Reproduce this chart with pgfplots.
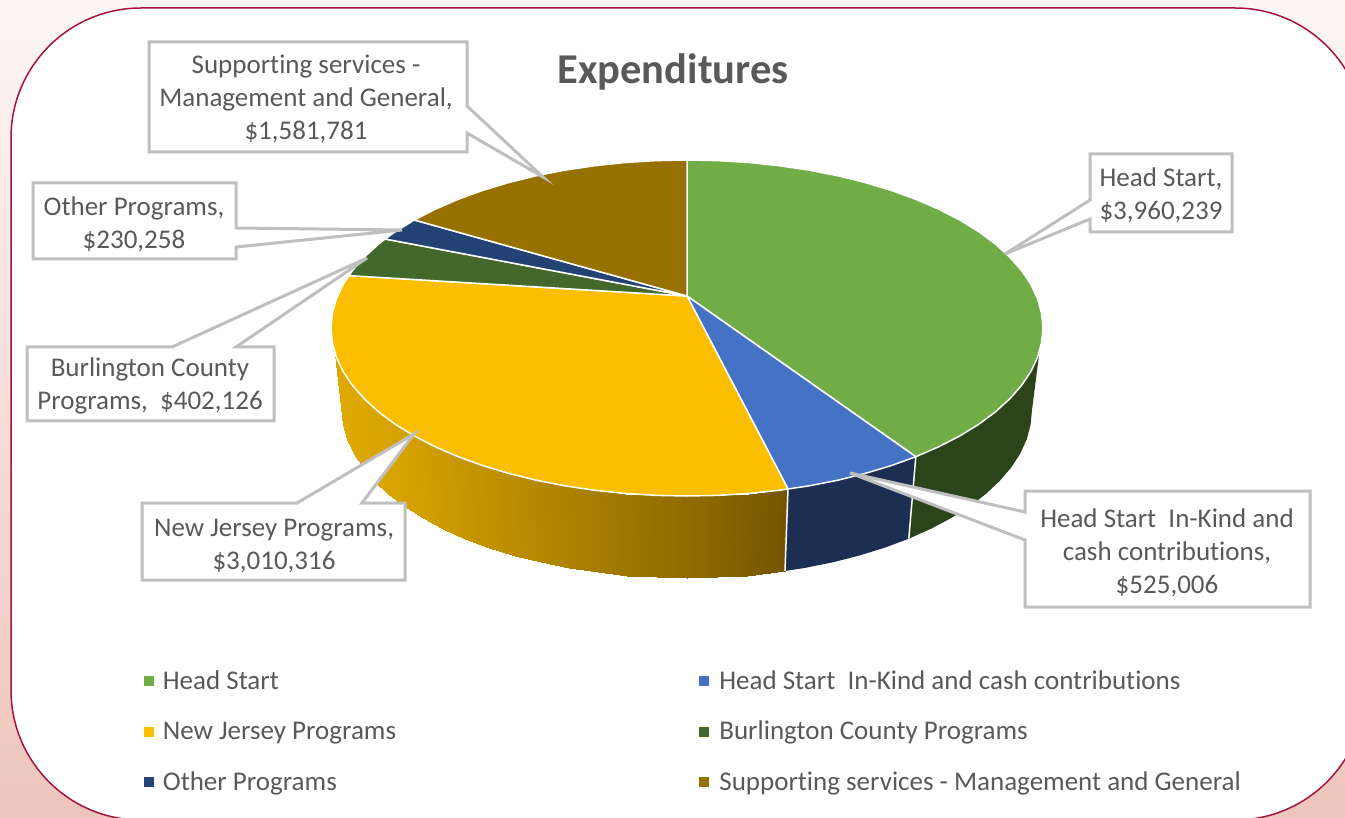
\documentclass[border=0pt]{standalone}
\usepackage{pgfplots}
\pgfplotsset{compat=1.18}
\usepackage{fontspec}
\setmainfont{Carlito}[Ligatures=NoCommon]
\definecolor{txt}{HTML}{595959}
\definecolor{frame}{HTML}{A5123F}
\definecolor{callout}{HTML}{BFBFBF}
\definecolor{cHS}{HTML}{70AD47}
\definecolor{cKind}{HTML}{4472C4}
\definecolor{cNJ}{HTML}{FCBE00}
\definecolor{cBC}{HTML}{43682B}
\definecolor{cOther}{HTML}{234377}
\definecolor{cSupp}{HTML}{967100}
\definecolor{sHS}{HTML}{2B4419}
\definecolor{sKind}{HTML}{1C2E52}
\definecolor{bgtop}{HTML}{FDF6F4}
\definecolor{bgbot}{HTML}{EEC5BC}

\pgfplotstableread{
x y c
334.5 351.4 340
335.4 354.3 343
336.4 357.2 347
343.1 371.5 354
352.5 385.5 363
364.4 399.0 374
378.7 412.0 388
395.4 424.4 404
414.3 436.0 423
435.3 446.8 443
458.2 456.7 465
482.7 465.6 489
509.0 473.5 515
536.5 480.3 541
565.2 485.9 569
594.9 490.3 598
625.2 493.5 627
656.0 495.4 657
687.0 496.0 687
718.0 495.4 717
748.8 493.5 747
788.0 489.0 785
342.0 410.0 340
343.4 424.6 343
347.2 439.2 347
353.7 453.5 354
362.8 467.5 363
374.4 481.0 374
388.2 494.0 388
404.4 506.4 404
422.7 518.0 423
443.1 528.8 443
465.2 538.7 465
489.0 547.6 489
514.5 555.5 515
541.1 562.3 541
569.0 567.9 569
597.6 572.3 598
627.1 575.5 627
657.0 577.4 657
687.0 578.0 687
717.0 577.4 717
746.9 575.5 747
785.0 571.0 785
}\sideNJ

\begin{document}
\begin{tikzpicture}
\useasboundingbox (0,0) rectangle (1345pt,818pt);
\begin{axis}[
  at={(0,0)}, anchor=south west,
  scale only axis, width=1345pt, height=818pt,
  xmin=0, xmax=1345, ymin=0, ymax=818, y dir=reverse,
  hide axis,
  colormap={sideyellow}{
    rgb255(0cm)=(223,170,0) rgb255(8cm)=(212,160,0) rgb255(19cm)=(183,138,0)
    rgb255(28cm)=(160,120,0) rgb255(36cm)=(140,105,0) rgb255(45cm)=(115,84,0)},
  point meta min=340, point meta max=790,
  legend style={
    at={(axis cs:144,668.5)}, anchor=north west, draw=none, fill=none,
    inner sep=0pt, outer sep=0pt, text=txt,
    font=\fontsize{27}{30}\selectfont,
    cells={anchor=west},
    legend cell align=left,
    /tikz/column 1/.style={column sep=7.5pt},
    /tikz/column 2/.style={column sep=301pt},
    /tikz/column 3/.style={column sep=9pt},
    /tikz/row sep=26.5pt,
  },
  legend columns=2,
  legend image code/.code={\fill[#1] (0pt,-4.5pt) rectangle (9pt,4.5pt);},
  every axis plot/.append style={forget plot},
]
% page background and rounded panel
\shade[top color=bgtop, bottom color=bgbot]
  (axis cs:0,0) rectangle (axis cs:1345,818);
\draw[frame, line width=1.5pt, fill=white, rounded corners=130pt]
  (axis cs:11,8) rectangle (axis cs:1365,820);

% side walls
\addplot[surf, shader=interp, mesh/rows=2, point meta=explicit]
  table[x=x, y=y, meta=c] {\sideNJ};
\addplot[fill=sHS, draw=none] coordinates {
  (1039.5,351.4)(1037.6,357.2)(1030.9,371.5)(1021.5,385.5)(1009.6,399)(995.3,412)
  (978.6,424.4)(959.7,436)(938.7,446.8)(915.8,456.7)
  (908.8,538.7)(930.9,528.8)(951.3,518)(969.6,506.4)(985.8,494)(999.6,481)
  (1011.2,467.5)(1020.3,453.5)(1026.8,439.2)(1030.6,424.6)(1032,410)} -- cycle;
\addplot[fill=sKind, draw=none] coordinates {
  (915.8,456.7)(891.3,465.6)(865,473.5)(837.5,480.3)(808.8,485.9)(788,489)
  (785,571)(805,567.9)(832.9,562.3)(859.5,555.5)(885,547.6)(908.8,538.7)} -- cycle;
\addplot[white, line width=1.5pt] coordinates {(915.8,456.7)(908.8,538.7)};
\addplot[white, line width=1.5pt] coordinates {(788,489)(785,571)};

% top face, one polygon per slice
\addplot[fill=cHS, draw=white, line width=1.5pt, line join=round] coordinates {
  (687,296)(687,160)(718,160.6)(748.8,162.5)(779.1,165.7)(808.8,170.1)(837.5,175.7)
  (865,182.5)(891.3,190.4)(915.8,199.3)(938.7,209.2)(959.7,220)(978.6,231.6)
  (995.3,244)(1009.6,257)(1021.5,270.5)(1030.9,284.5)(1037.6,298.8)(1041.6,313.4)
  (1043,328)(1041.6,342.6)(1037.6,357.2)(1030.9,371.5)(1021.5,385.5)(1009.6,399)
  (995.3,412)(978.6,424.4)(959.7,436)(938.7,446.8)(915.8,456.7)} -- cycle;
\addplot[fill=cKind, draw=white, line width=1.5pt, line join=round] coordinates {
  (687,296)(915.8,456.7)(891.3,465.6)(865,473.5)(837.5,480.3)(808.8,485.9)(788,489)} -- cycle;
\addplot[fill=cNJ, draw=white, line width=1.5pt, line join=round] coordinates {
  (687,296)(788,489)(779.1,490.3)(748.8,493.5)(718,495.4)(687,496)(656,495.4)
  (625.2,493.5)(594.9,490.3)(565.2,485.9)(536.5,480.3)(509,473.5)(482.7,465.6)
  (458.2,456.7)(435.3,446.8)(414.3,436)(395.4,424.4)(378.7,412)(364.4,399)
  (352.5,385.5)(343.1,371.5)(336.4,357.2)(332.4,342.6)(331,328)(332.4,313.4)
  (336.4,298.8)(343.1,284.5)(349,275.6)} -- cycle;
\addplot[fill=cBC, draw=white, line width=1.5pt, line join=round] coordinates {
  (687,296)(349,275.6)(352.5,270.5)(364.4,257)(378.7,244)(385,239)} -- cycle;
\addplot[fill=cOther, draw=white, line width=1.5pt, line join=round] coordinates {
  (687,296)(385,239)(395.4,231.6)(414.3,220)} -- cycle;
\addplot[fill=cSupp, draw=white, line width=1.5pt, line join=round] coordinates {
  (687,296)(414.3,220)(435.3,209.2)(458.2,199.3)(482.7,190.4)(509,182.5)(536.5,175.7)
  (565.2,170.1)(594.9,165.7)(625.2,162.5)(656,160.6)(687,160)} -- cycle;

% data label callouts
\pgfplotsset{callout box/.style={fill=white, draw=callout, line width=3pt, line join=miter}}
\addplot[callout box] coordinates {
  (149,42)(467,42)(467,106)(543,177)(467,133)(467,152)(149,152)} -- cycle;
\addplot[callout box] coordinates {
  (33,183)(236,183)(236,228)(402,230)(236,247)(236,259)(33,259)} -- cycle;
\addplot[callout box] coordinates {
  (1090,154)(1232,154)(1232,232)(1090,232)(1090,219)(1005,254)(1090,200)} -- cycle;
\addplot[callout box] coordinates {
  (1025,491)(1310,491)(1310,607)(1025,607)(1025,540)(850,473)(1025,512)} -- cycle;
\addplot[callout box] coordinates {
  (142,503)(297,503)(414,434)(362,503)(405,503)(405,580)(142,580)} -- cycle;
\addplot[callout box] coordinates {
  (27,347)(172,347)(367,258)(236,347)(274,347)(274,421)(27,421)} -- cycle;

\tikzset{lab/.style={text=txt, align=center, inner sep=0pt,
  font=\fontsize{27}{33}\selectfont}}
\node[lab] at (axis cs:306,99) {Supporting services -\\Management and General,\\\$1,581,781};
\node[lab] at (axis cs:134,224) {Other Programs,\\\$230,258};
\node[lab] at (axis cs:1161,195) {Head Start,\\\$3,960,239};
\node[lab] at (axis cs:1167,553) {Head Start\ \ In-Kind and\\cash contributions,\\\$525,006};
\node[lab] at (axis cs:274,546) {New Jersey Programs,\\\$3,010,316};
\node[lab] at (axis cs:150,386) {Burlington County\\Programs,\ \ \$402,126};
\node[text=txt, inner sep=0pt, font=\fontsize{42.5}{46}\selectfont\bfseries] at (axis cs:673,72) {Expenditures};

% legend
\addlegendimage{cHS}\addlegendentry{Head Start}
\addlegendimage{cKind}\addlegendentry{Head Start\ \ In-Kind and cash contributions}
\addlegendimage{cNJ}\addlegendentry{New Jersey Programs}
\addlegendimage{cBC}\addlegendentry{Burlington County Programs}
\addlegendimage{cOther}\addlegendentry{Other Programs}
\addlegendimage{cSupp}\addlegendentry{Supporting services - Management and General}
\end{axis}
\end{tikzpicture}
\end{document}
